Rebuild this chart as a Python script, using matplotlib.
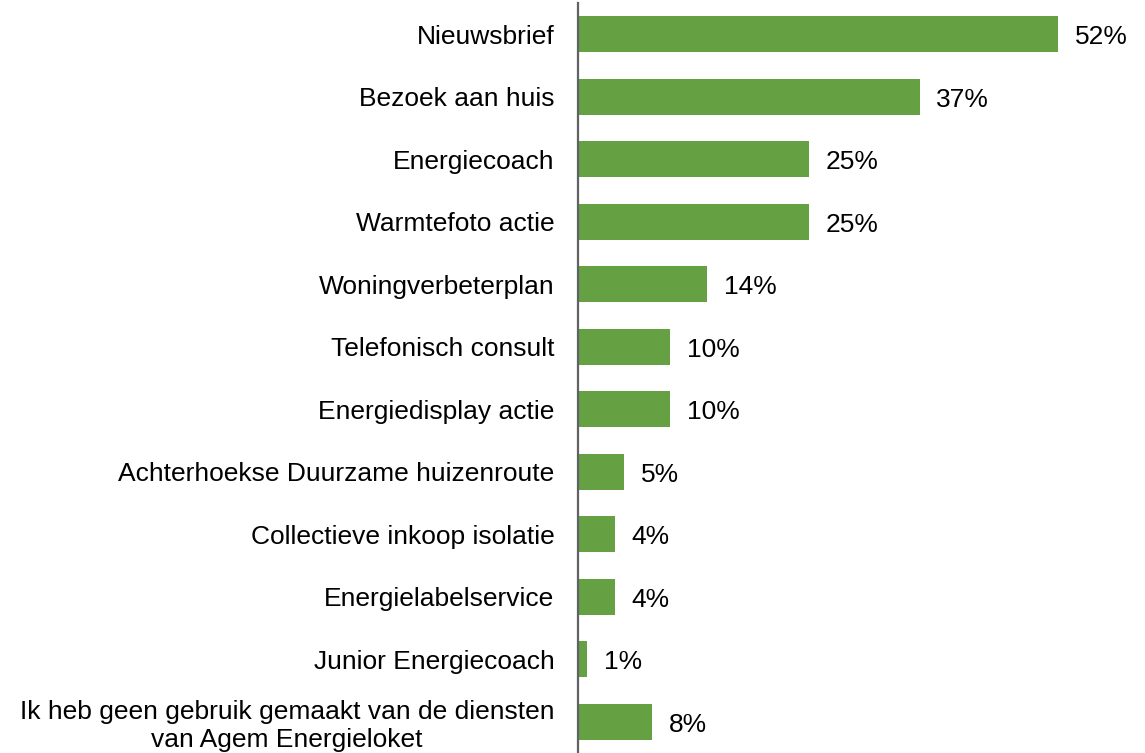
import matplotlib.pyplot as plt
import numpy as np

plt.rcParams['font.family'] = ['Liberation Sans', 'DejaVu Sans']

diensten = [
    "Nieuwsbrief",
    "Bezoek aan huis",
    "Energiecoach",
    "Warmtefoto actie",
    "Woningverbeterplan",
    "Telefonisch consult",
    "Energiedisplay actie",
    "Achterhoekse Duurzame huizenroute",
    "Collectieve inkoop isolatie",
    "Energielabelservice",
    "Junior Energiecoach",
    "Ik heb geen gebruik gemaakt van de diensten\nvan Agem Energieloket",
]
percentages = [52, 37, 25, 25, 14, 10, 10, 5, 4, 4, 1, 8]

groen = "#65a042"

fig = plt.figure(figsize=(11.45, 7.53), dpi=100)
ax = fig.add_axes([578 / 1145, 0.0, 554 / 1145, 0.996])

y = np.arange(len(diensten))
bars = ax.barh(y, percentages, height=0.58, color=groen)

ax.set_ylim(len(diensten) - 0.5, -0.5)
ax.set_xlim(0, 60)

ax.set_yticks(y)
ax.set_yticklabels(diensten, fontsize=19, color="black", linespacing=1.2)
for lbl in ax.get_yticklabels():
    lbl.set_multialignment("center")
ax.tick_params(axis="y", length=0, pad=17)
ax.set_xticks([])

for s in ["top", "right", "bottom"]:
    ax.spines[s].set_visible(False)
ax.spines["left"].set_color("#5f6366")
ax.spines["left"].set_linewidth(1.6)

for rect, p in zip(bars, percentages):
    ax.text(rect.get_width() + 1.8, rect.get_y() + rect.get_height() / 2 + 0.05,
            f"{p}%", va="center", ha="left", fontsize=19, color="black")

fig.savefig("out.png", dpi=100)
